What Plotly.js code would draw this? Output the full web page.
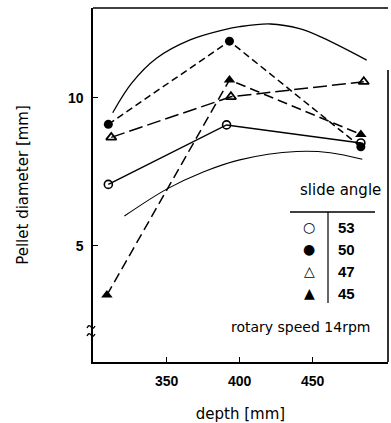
<!DOCTYPE html>
<html>
<head>
<meta charset="utf-8">
<script src="https://cdn.plot.ly/plotly-3.0.1.min.js"></script>
<style>
html,body{margin:0;padding:0;background:#fff;}
#chart{width:391px;height:423px;}
</style>
</head>
<body>
<div id="chart"></div>
<script>
// ---- data ----
const depth53 = [310, 391, 483];
const diam53  = [7.07, 9.08, 8.47];
const depth50 = [310, 393, 483];
const diam50  = [9.10, 11.91, 8.34];
const depth47 = [312, 394, 485];
const diam47  = [8.66, 10.03, 10.54];
const depth45 = [309, 393, 483];
const diam45  = [3.33, 10.60, 8.76];

const upperDepth = [313, 326, 343, 366, 389, 400, 421, 441, 457, 487];
const upperDiam  = [9.49, 10.49, 11.33, 11.95, 12.29, 12.40, 12.49, 12.33, 12.02, 11.27];
const lowerDepth = [321, 350, 375, 400, 439, 462, 484];
const lowerDiam  = [6.00, 6.91, 7.49, 7.90, 8.18, 8.14, 7.92];

const xTickVals = [350, 400, 450];
const xTickText = ['350', '400', '450'];
const yTickVals = [5, 10];
const yTickText = ['5', '10'];

const legendLabels = ['53', '50', '47', '45'];
const legendGlyphs = ['\u25CB', '\u25CF', '\u25B3', '\u25B2'];

// ---- traces ----
const F = 'DejaVu Sans, Arial, sans-serif';
const FB = 'Liberation Sans, Arial, sans-serif';
const traces = [
  {x: upperDepth, y: upperDiam, mode: 'lines', line: {color: '#000', width: 1.3, shape: 'spline', smoothing: 1}, hoverinfo: 'skip'},
  {x: lowerDepth, y: lowerDiam, mode: 'lines', line: {color: '#000', width: 1.1, shape: 'spline', smoothing: 1}, hoverinfo: 'skip'},
  {x: depth53, y: diam53, mode: 'lines+markers', name: '53',
   line: {color: '#000', width: 1.5},
   marker: {symbol: 'circle-open', size: 8, color: '#000', line: {width: 1.6, color: '#000'}}},
  {x: depth50, y: diam50, mode: 'lines+markers', name: '50',
   line: {color: '#000', width: 1.5, dash: '7px,4px'},
   marker: {symbol: 'circle', size: 9, color: '#000'}},
  {x: depth47, y: diam47, mode: 'lines+markers', name: '47',
   line: {color: '#000', width: 1.5, dash: '14px,5px'},
   marker: {symbol: 'triangle-up-open', size: 9, color: '#000', line: {width: 1.8, color: '#000'}}},
  {x: depth45, y: diam45, mode: 'lines+markers', name: '45',
   line: {color: '#000', width: 1.5, dash: '10px,5px'},
   marker: {symbol: 'triangle-up', size: 10, color: '#000'}}
];

// ---- helpers for paper coords (plot area 93..388 x 8..362 px) ----
const PL = 93, PR = 388, PT = 8, PB = 362;
const xp = px => (px - PL) / (PR - PL);
const yp = py => (PB - py) / (PB - PT);

const annotations = [
  {xref: 'paper', yref: 'paper', x: xp(340), y: yp(190), text: 'slide angle', showarrow: false,
   font: {family: F, size: 15, color: '#000'}, xanchor: 'center', yanchor: 'middle'},
  {xref: 'paper', yref: 'paper', x: xp(300), y: yp(327), text: 'rotary speed 14rpm', showarrow: false,
   font: {family: F, size: 14, color: '#000'}, xanchor: 'center', yanchor: 'middle'}
];
const rowsY = [227, 249, 271, 293];
legendLabels.forEach((lab, i) => {
  annotations.push({xref: 'paper', yref: 'paper', x: xp(309), y: yp(rowsY[i]), text: legendGlyphs[i],
    showarrow: false, font: {family: F, size: 14, color: '#000'}, xanchor: 'center', yanchor: 'middle'});
  annotations.push({xref: 'paper', yref: 'paper', x: xp(336), y: yp(rowsY[i]), text: '<b>' + lab + '</b>',
    showarrow: false, font: {family: FB, size: 15, color: '#000'}, xanchor: 'left', yanchor: 'middle'});
});

// axis-break tilde marks
function tilde(cx, cy) {
  return 'M' + xp(cx - 4) + ',' + yp(cy + 1) +
         ' Q' + xp(cx - 2) + ',' + yp(cy - 3) + ' ' + xp(cx) + ',' + yp(cy) +
         ' T' + xp(cx + 4) + ',' + yp(cy - 1);
}

const shapes = [
  {type: 'line', xref: 'paper', yref: 'paper', x0: 0, x1: 1, y0: 1, y1: 1, line: {color: '#000', width: 1.6}},
  {type: 'line', xref: 'paper', yref: 'paper', x0: 1, x1: 1, y0: 0, y1: yp(70), line: {color: '#000', width: 1.6}},
  {type: 'line', xref: 'paper', yref: 'paper', x0: xp(290), x1: xp(375), y0: yp(212), y1: yp(212), line: {color: '#000', width: 1.6}},
  {type: 'line', xref: 'paper', yref: 'paper', x0: xp(328), x1: xp(328), y0: yp(212), y1: yp(303), line: {color: '#000', width: 1.2}},
  {type: 'path', xref: 'paper', yref: 'paper', path: tilde(91, 327), line: {color: '#000', width: 1.3}},
  {type: 'path', xref: 'paper', yref: 'paper', path: tilde(91, 335), line: {color: '#000', width: 1.3}}
];

const layout = {
  width: 391, height: 423,
  margin: {l: PL, r: 391 - PR, t: PT, b: 423 - PB, pad: 0},
  paper_bgcolor: '#fff', plot_bgcolor: '#fff',
  showlegend: false,
  font: {family: F, color: '#000'},
  xaxis: {
    range: [299.5, 501.6], tickvals: xTickVals, ticktext: xTickText.map(t => '<b>' + t + '</b>'),
    ticks: 'inside', ticklen: 5, tickwidth: 1.3, tickcolor: '#000',
    showline: true, linecolor: '#000', linewidth: 1.6, showgrid: false, zeroline: false,
    tickfont: {family: FB, size: 14, color: '#000'}, ticklabelstandoff: 6,
    title: {text: 'depth [mm]', font: {family: F, size: 15, color: '#000'}, standoff: 22}
  },
  yaxis: {
    range: [1.07, 13.03], tickvals: yTickVals, ticktext: yTickText.map(t => '<b>' + t + '</b>'),
    ticks: 'inside', ticklen: 5, tickwidth: 1.3, tickcolor: '#000',
    showline: true, linecolor: '#000', linewidth: 1.6, showgrid: false, zeroline: false,
    tickfont: {family: FB, size: 14, color: '#000'}, ticklabelstandoff: 5,
    title: {text: 'Pellet diameter [mm]', font: {family: F, size: 15, color: '#000'}, standoff: 36}
  },
  annotations: annotations,
  shapes: shapes
};

Plotly.newPlot('chart', traces, layout, {displayModeBar: false, staticPlot: true});
</script>
</body>
</html>
